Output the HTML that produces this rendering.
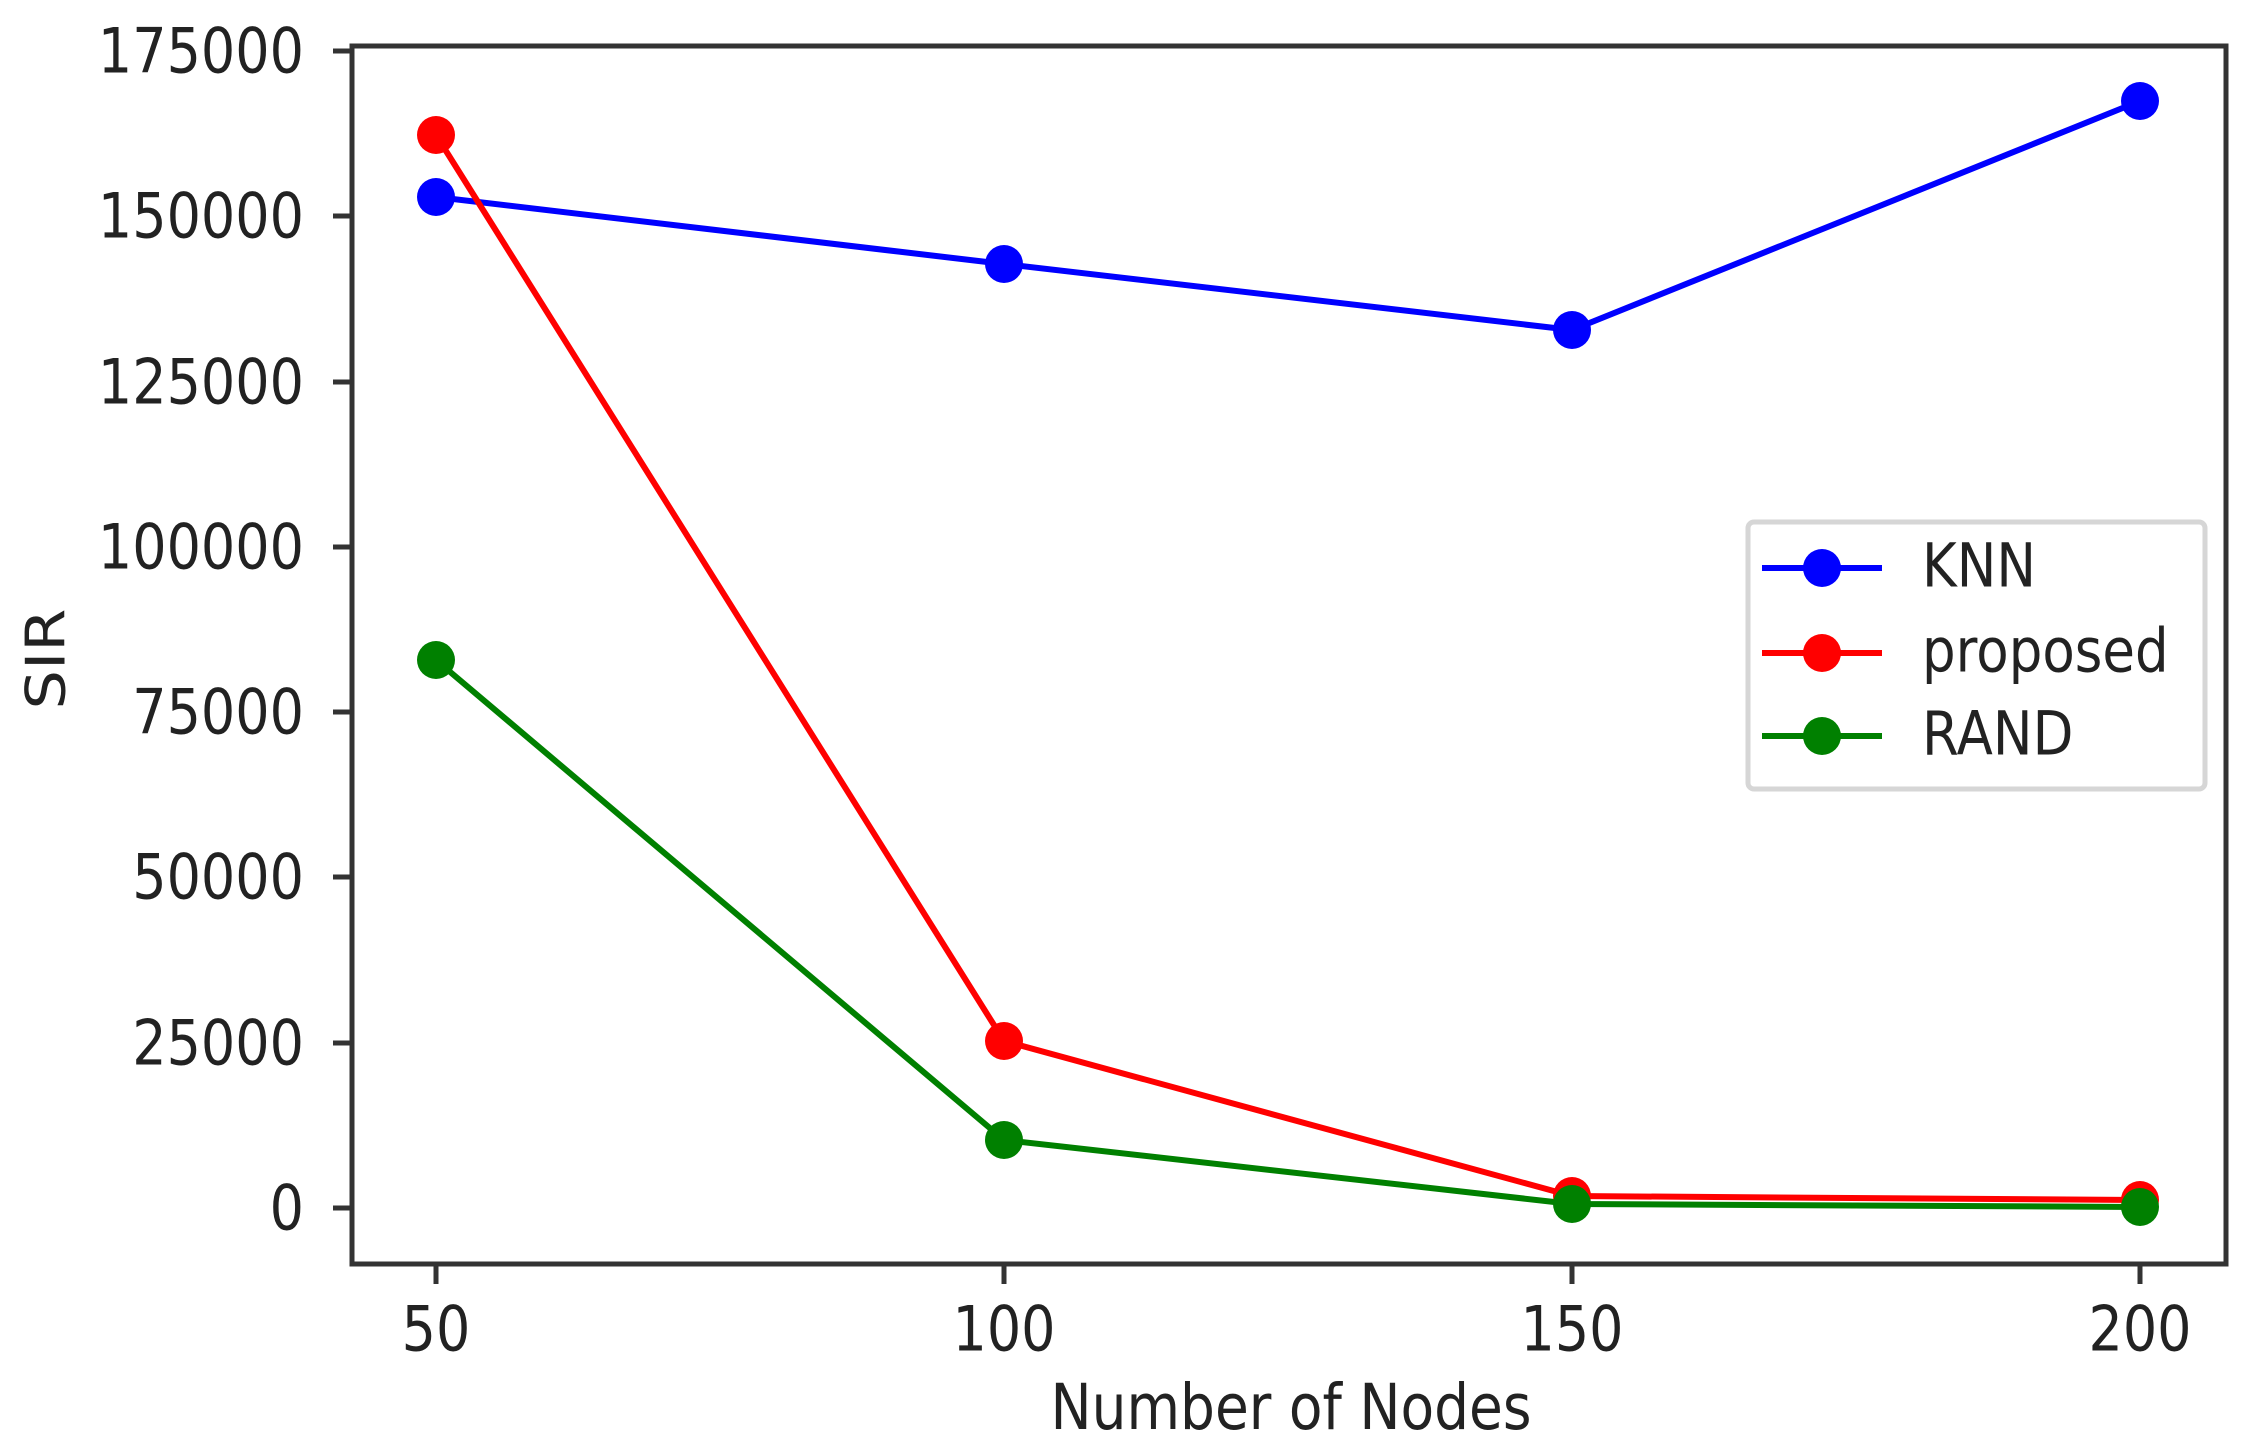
<!DOCTYPE html>
<html><head><meta charset="utf-8"><style>html,body{margin:0;padding:0;background:#fff}svg{display:block}</style></head>
<body>
<svg width="2259" height="1448" viewBox="0 0 2259 1448" xmlns="http://www.w3.org/2000/svg" font-family="DejaVu Sans, Liberation Sans, sans-serif" fill="#222">
<rect width="2259" height="1448" fill="#fff"/>
<g stroke-width="6" fill="none" stroke-linejoin="round">
<polyline stroke="#0000ff" points="436,197 1004,264 1572,330 2140,101"/>
<polyline stroke="#ff0000" points="436,135 1004,1041 1572,1196 2140,1200"/>
<polyline stroke="#008000" points="436,660 1004,1140 1572,1204 2140,1207"/>
</g>
<g fill="#0000ff"><circle cx="436" cy="197" r="19"/><circle cx="1004" cy="264" r="19"/><circle cx="1572" cy="330" r="19"/><circle cx="2140" cy="101" r="19"/></g>
<g fill="#ff0000"><circle cx="436" cy="135" r="19"/><circle cx="1004" cy="1041" r="19"/><circle cx="1572" cy="1196" r="19"/><circle cx="2140" cy="1200" r="19"/></g>
<g fill="#008000"><circle cx="436" cy="660" r="19"/><circle cx="1004" cy="1140" r="19"/><circle cx="1572" cy="1204" r="19"/><circle cx="2140" cy="1207" r="19"/></g>
<rect x="352" y="46" width="1874" height="1218" fill="none" stroke="#333" stroke-width="5"/>
<g stroke="#333" stroke-width="5">
<line x1="333" x2="352" y1="51" y2="51"/><line x1="333" x2="352" y1="216" y2="216"/><line x1="333" x2="352" y1="382" y2="382"/><line x1="333" x2="352" y1="547" y2="547"/><line x1="333" x2="352" y1="712" y2="712"/><line x1="333" x2="352" y1="877" y2="877"/><line x1="333" x2="352" y1="1043" y2="1043"/><line x1="333" x2="352" y1="1208" y2="1208"/>
<line x1="436" x2="436" y1="1264" y2="1284"/><line x1="1004" x2="1004" y1="1264" y2="1284"/><line x1="1572" x2="1572" y1="1264" y2="1284"/><line x1="2140" x2="2140" y1="1264" y2="1284"/>
</g>
<g font-size="54" text-anchor="end" dominant-baseline="central">
<text transform="translate(304,51) scale(1,1.15)">175000</text>
<text transform="translate(304,216) scale(1,1.15)">150000</text>
<text transform="translate(304,382) scale(1,1.15)">125000</text>
<text transform="translate(304,547) scale(1,1.15)">100000</text>
<text transform="translate(304,712) scale(1,1.15)">75000</text>
<text transform="translate(304,877) scale(1,1.15)">50000</text>
<text transform="translate(304,1043) scale(1,1.15)">25000</text>
<text transform="translate(304,1208) scale(1,1.15)">0</text>
</g>
<g font-size="54" text-anchor="middle" dominant-baseline="central">
<text transform="translate(436,1329) scale(1,1.15)">50</text>
<text transform="translate(1004,1329) scale(1,1.15)">100</text>
<text transform="translate(1572,1329) scale(1,1.15)">150</text>
<text transform="translate(2140,1329) scale(1,1.15)">200</text>
<text font-size="55" transform="translate(1291,1407) scale(1,1.15)">Number of Nodes</text>
<text transform="translate(46,659) rotate(-90) scale(1.15,1)">SIR</text>
</g>
<rect x="1748" y="522" width="457" height="267" rx="6" fill="#fff" stroke="#d6d6d6" stroke-width="5"/>
<g stroke-width="6">
<line x1="1762" x2="1882" y1="568" y2="568" stroke="#0000ff"/>
<line x1="1762" x2="1882" y1="653" y2="653" stroke="#ff0000"/>
<line x1="1762" x2="1882" y1="736" y2="736" stroke="#008000"/>
</g>
<circle cx="1822" cy="568" r="19" fill="#0000ff"/>
<circle cx="1822" cy="653" r="19" fill="#ff0000"/>
<circle cx="1822" cy="736" r="19" fill="#008000"/>
<g font-size="53" dominant-baseline="central">
<text transform="translate(1922,566) scale(1,1.15)">KNN</text>
<text transform="translate(1922,651) scale(1,1.15)">proposed</text>
<text transform="translate(1922,734) scale(1,1.15)">RAND</text>
</g>
</svg>
</body></html>
